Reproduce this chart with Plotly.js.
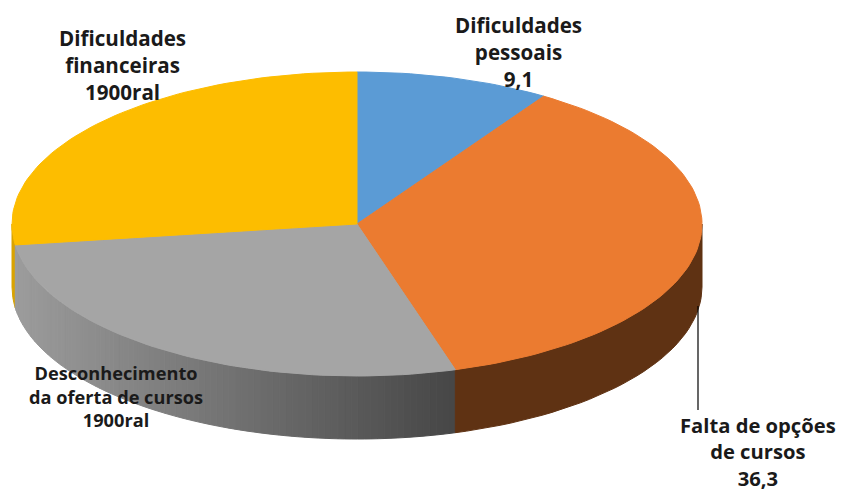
<!DOCTYPE html>
<html>
<head>
<meta charset="utf-8">
<script src="https://cdn.plot.ly/plotly-3.0.1.min.js"></script>
<style>html,body{margin:0;padding:0;background:#fff}#chart{width:843px;height:491px}</style>
</head>
<body>
<div id="chart"></div>
<script>
const categories = ["Dificuldades pessoais", "Falta de opções de cursos", "Desconhecimento da oferta de cursos", "Dificuldades financeiras"];
const values = [9.1, 36.3, 27.4, 27.2];
const valueLabels = ["9,1", "36,3", "1900ral", "1900ral"];
const topColors = ["#5B9BD5", "#EB7B30", "#A5A5A5", "#FDBD00"];
const sideColors = ["#2F5F8F", "#5F3213", null, "#D9A300"];
const labelLines = [["Dificuldades", "pessoais"], ["Falta de opções", "de cursos"], ["Desconhecimento", "da oferta de cursos"], ["Dificuldades", "financeiras"]];
const labelPos = [[518, 52, 20.6], [758, 451, 20.2], [116, 396, 18.2], [122, 65, 20.6]];

const cx = 357, cy = 224, rx = 345, ry = 152, depth = 63;
const pt = (deg, dy) => {
  const a = deg * Math.PI / 180;
  return [cx + rx * Math.sin(a), cy - ry * Math.cos(a) + (dy || 0)];
};
const total = values.reduce((a, b) => a + b, 0);
const bounds = [0];
values.forEach(v => bounds.push(bounds[bounds.length - 1] + v / total * 360));

const polyTrace = (xs, ys, color) => ({
  type: "scatter", mode: "lines", x: xs, y: ys, fill: "toself", fillcolor: color,
  line: {color: color, width: 1}, hoverinfo: "skip", showlegend: false
});
const sidePoly = (a0, a1, color) => {
  const xs = [], ys = [], n = Math.max(2, Math.ceil(Math.abs(a1 - a0) / 2));
  for (let i = 0; i <= n; i++) { const p = pt(a0 + (a1 - a0) * i / n, 0); xs.push(p[0]); ys.push(p[1]); }
  for (let i = n; i >= 0; i--) { const p = pt(a0 + (a1 - a0) * i / n, depth); xs.push(p[0]); ys.push(p[1]); }
  xs.push(xs[0]); ys.push(ys[0]);
  return polyTrace(xs, ys, color);
};
const topPoly = (a0, a1, color) => {
  const xs = [cx], ys = [cy], n = Math.ceil((a1 - a0) / 1.5);
  for (let i = 0; i <= n; i++) { const p = pt(a0 + (a1 - a0) * i / n, 0); xs.push(p[0]); ys.push(p[1]); }
  xs.push(cx); ys.push(cy);
  return polyTrace(xs, ys, color);
};

const traces = [];
// yellow rim at far left, then gradient grey side, then brown side
traces.push(sidePoly(bounds[3], 270, sideColors[3]));
const strips = 90;
for (let i = 0; i < strips; i++) {
  const a0 = bounds[2] + (bounds[3] - bounds[2]) * i / strips;
  const a1 = bounds[2] + (bounds[3] - bounds[2]) * (i + 1) / strips;
  const mx = pt((a0 + a1) / 2, 0)[0];
  const t = Math.min(1, Math.max(0, (mx - 15) / (455 - 15)));
  const g = Math.round(0x9C + (0x46 - 0x9C) * t);
  traces.push(sidePoly(a0, a1, `rgb(${g},${g},${g})`));
}
traces.push(sidePoly(bounds[2], 90, sideColors[1]));
values.forEach((v, i) => traces.push(topPoly(bounds[i], bounds[i + 1], topColors[i])));
// leader line for the orange slice
traces.push({type: "scatter", mode: "lines", x: [698, 698], y: [306, 410],
  line: {color: "#000", width: 1.2}, hoverinfo: "skip", showlegend: false});

const annotations = categories.map((c, i) => ({
  x: labelPos[i][0], y: labelPos[i][1], xref: "x", yref: "y",
  text: labelLines[i].concat([valueLabels[i]]).join("<br>"),
  showarrow: false, align: "center", xanchor: "center", yanchor: "middle", borderpad: 0,
  font: {family: "'Open Sans', sans-serif", size: labelPos[i][2], color: "#1a1a1a", weight: 700}
}));

Plotly.newPlot("chart", traces, {
  width: 843, height: 491,
  margin: {l: 0, r: 0, t: 0, b: 0},
  paper_bgcolor: "#fff", plot_bgcolor: "#fff",
  xaxis: {range: [0, 843], visible: false, fixedrange: true},
  yaxis: {range: [491, 0], visible: false, fixedrange: true},
  showlegend: false, annotations: annotations
}, {displayModeBar: false, staticPlot: true});
</script>
</body>
</html>
